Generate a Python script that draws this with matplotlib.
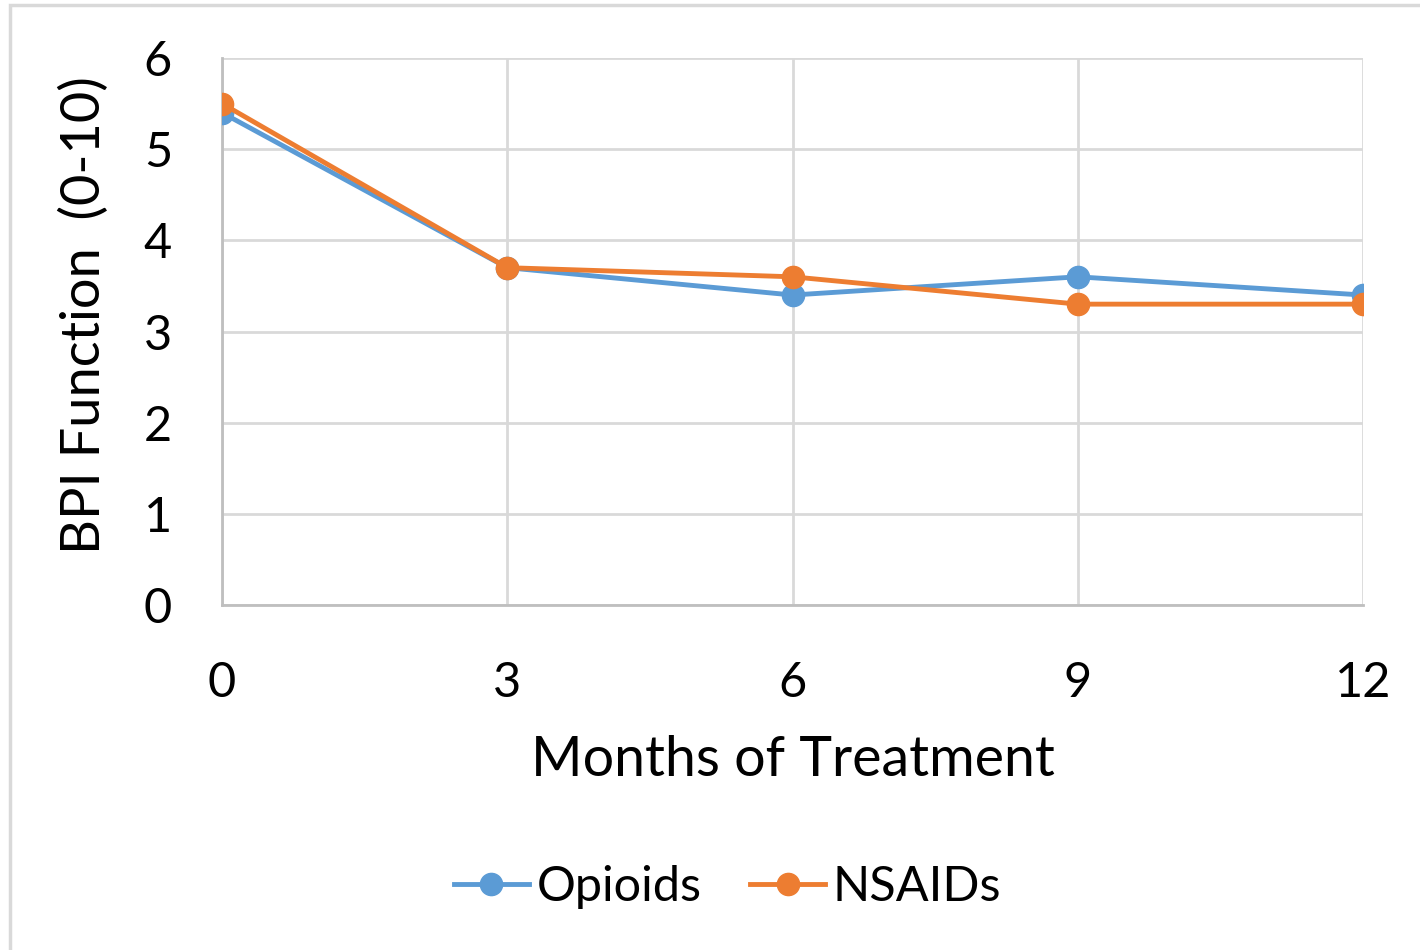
import numpy as np
import matplotlib.pyplot as plt
from matplotlib.patches import Rectangle

plt.rcParams['font.family'] = ['Lato', 'DejaVu Sans']

months = [0, 3, 6, 9, 12]
opioids = [5.4, 3.7, 3.4, 3.6, 3.4]
nsaids = [5.5, 3.7, 3.6, 3.3, 3.3]

blue = '#5B9BD5'
orange = '#ED7D31'
grid = '#D9D9D9'

W, H = 1420, 950
fig = plt.figure(figsize=(W / 100, H / 100), dpi=100)

# outer chart frame
fig.patches.append(Rectangle((10 / W, -0.01), 1.2, 1 - 5 / H + 0.01, transform=fig.transFigure,
                             fill=False, edgecolor='#D9D9D9', linewidth=2.5))

ax = fig.add_axes([222 / W, 1 - 605 / H, (1363 - 222) / W, (605 - 58) / H])
ax.plot(months, opioids, color=blue, lw=3.5, marker='o', ms=16, label='Opioids', zorder=3)
ax.plot(months, nsaids, color=orange, lw=3.5, marker='o', ms=16, label='NSAIDs', zorder=4)

ax.set_xlim(0, 12)
ax.set_ylim(0, 6)
ax.set_xticks(months)
ax.set_yticks(range(7))
ax.grid(True, color=grid, lw=2)
ax.set_axisbelow(True)
for s in ['top', 'right']:
    ax.spines[s].set_visible(False)
for s in ['left', 'bottom']:
    ax.spines[s].set_color('#BFBFBF')
    ax.spines[s].set_linewidth(2)
ax.tick_params(length=0, labelsize=35, colors='#000000')
ax.tick_params(axis='y', pad=36)
ax.tick_params(axis='x', pad=40)

ax.set_xlabel('Months of Treatment', fontsize=40, labelpad=22)
ax.set_ylabel('BPI Function  (0-10)', fontsize=39)
ax.yaxis.set_label_coords(-0.099, 0.53)

ax.legend(loc='center', bbox_to_anchor=(0.443, -0.515), ncol=2, frameon=False,
          fontsize=35, handlelength=1.55, handletextpad=0.15, columnspacing=1.0)

fig.savefig('out.png', dpi=100)
